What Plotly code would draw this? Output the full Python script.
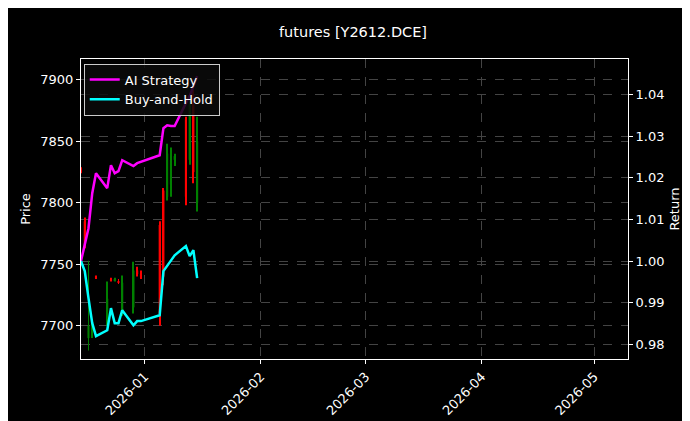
import plotly.graph_objects as go
import pandas as pd

# trading days
dates = ['2025-12-15', '2025-12-16', '2025-12-17', '2025-12-18', '2025-12-19',
         '2025-12-22', '2025-12-23', '2025-12-24', '2025-12-25', '2025-12-26',
         '2025-12-29', '2025-12-30', '2025-12-31', '2026-01-05', '2026-01-06',
         '2026-01-07', '2026-01-08', '2026-01-09', '2026-01-12', '2026-01-13',
         '2026-01-14', '2026-01-15']
opens  = [7828, 7785, 7690, 7700, 7740, 7705, 7738, 7737, 7736, 7712, 7715, 7745,
          7742, 7782, 7810, 7805, 7815, 7835, 7868, 7835, 7888, 7800]
highs  = [7829, 7788, 7753, 7705, 7741, 7736, 7739, 7739, 7738, 7741, 7752, 7748,
          7745, 7785, 7812, 7848, 7845, 7840, 7870, 7884, 7892, 7870]
lows   = [7824, 7763, 7680, 7690, 7738, 7700, 7736, 7736, 7734, 7708, 7710, 7740,
          7738, 7700, 7733, 7802, 7805, 7830, 7798, 7831, 7816, 7793]
closes = [7825, 7765, 7700, 7702, 7739, 7722, 7737, 7738, 7735, 7735, 7745, 7742,
          7740, 7710, 7740, 7840, 7835, 7838, 7805, 7880, 7825, 7850]
ai_strategy = [1.0, 1.0036, 1.0079, 1.0163, 1.0211, 1.0175, 1.023, 1.0211, 1.0216,
               1.0242, 1.0228, 1.0235, 1.0238, 1.0254, 1.0319, 1.0326, 1.0324,
               1.0324, 1.0379, 1.0396, 1.042, 1.0444]
buy_hold = [1.0, 0.9976, 0.9911, 0.9851, 0.982, 0.9834, 0.9887, 0.9851, 0.9851,
            0.9882, 0.9846, 0.9856, 0.9856, 0.987, 0.9976, 0.9988, 1.0002, 1.0014,
            1.0036, 1.0012, 1.0026, 0.9959]

df = pd.DataFrame({'date': pd.to_datetime(dates), 'open': opens, 'high': highs,
                   'low': lows, 'close': closes})
colors = ['green' if c >= o else 'red' for o, c in zip(df['open'], df['close'])]
day = 86400000

fig = go.Figure()
# wicks
fig.add_trace(go.Bar(x=df['date'], base=df['low'], y=df['high'] - df['low'],
                     width=0.25 * day, marker_color=colors, marker_line_width=0,
                     showlegend=False, hoverinfo='skip'))
# bodies
fig.add_trace(go.Bar(x=df['date'], base=df[['open', 'close']].min(axis=1),
                     y=(df['close'] - df['open']).abs().clip(lower=1),
                     width=0.55 * day, marker_color=colors, marker_line_width=0,
                     showlegend=False))
fig.add_trace(go.Scatter(x=df['date'], y=ai_strategy, mode='lines', name='AI Strategy',
                         line=dict(color='#ff00ff', width=2.5), yaxis='y2'))
fig.add_trace(go.Scatter(x=df['date'], y=buy_hold, mode='lines', name='Buy-and-Hold',
                         line=dict(color='#00ffff', width=2.5), yaxis='y2'))

axis_common = dict(showline=True, linecolor='white', linewidth=1,
                   ticks='outside', tickcolor='white', ticklen=4, automargin=False,
                   gridcolor='#444', griddash='dash', gridwidth=0.6, zeroline=False,
                   tickfont=dict(color='white', size=13))

fig.update_layout(
    width=690, height=421,
    paper_bgcolor='black', plot_bgcolor='black',
    font=dict(family='DejaVu Sans', color='white', size=13),
    title=dict(text='futures [Y2612.DCE]', x=0.5, xanchor='center', y=0.955,
               font=dict(size=14.5)),
    margin=dict(l=73, r=70, t=51, b=70),
    barmode='overlay',
    showlegend=True,
    legend=dict(x=0.005, y=0.985, xanchor='left', yanchor='top',
                bgcolor='rgba(10,10,10,0.85)', bordercolor='#cccccc', borderwidth=1,
                font=dict(size=13)),
    xaxis=dict(type='date', range=['2025-12-15', '2026-05-10'], dtick='M1',
               tick0='2026-01-01', tickformat='%Y-%m', tickangle=-45,
               mirror=True, **axis_common),
    yaxis=dict(title=dict(text='Price', font=dict(size=13), standoff=6),
               range=[7673, 7917], tickvals=[7700, 7750, 7800, 7850, 7900],
               mirror=True, **axis_common),
    yaxis2=dict(title=dict(text='Return', font=dict(size=13), standoff=6),
                overlaying='y', side='right', range=[0.9765, 1.0485],
                tickvals=[0.98, 0.99, 1.00, 1.01, 1.02, 1.03, 1.04],
                tickformat='.2f', **axis_common),
)

fig.write_html("out.html")
